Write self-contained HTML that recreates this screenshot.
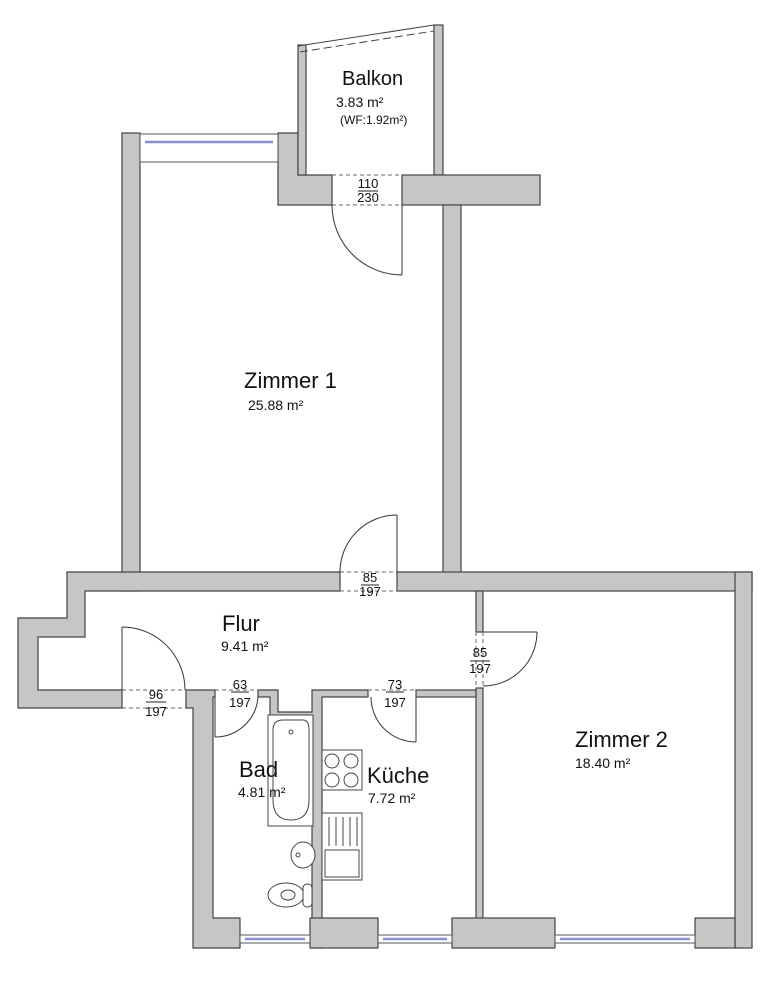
<!DOCTYPE html>
<html><head><meta charset="utf-8"><style>
html,body{margin:0;padding:0;background:#fff}
svg{display:block}
text{font-family:"Liberation Sans",Arial,sans-serif;fill:#111}
</style></head><body>
<svg width="768" height="990" viewBox="0 0 768 990" xmlns="http://www.w3.org/2000/svg">
<g fill="#c6c6c6" stroke="#444" stroke-width="1.2">
<rect x="122" y="133" width="18" height="458"/>
<polygon points="278,133 298,133 298,175 332,175 332,205 278,205"/>
<rect x="298" y="45" width="8" height="130"/>
<rect x="434" y="25" width="9" height="150"/>
<rect x="402" y="175" width="138" height="30"/>
<rect x="443" y="205" width="18" height="368"/>
<polygon points="18,618 67,618 67,572 340,572 340,591 85,591 85,637 38,637 38,690 122,690 122,708 18,708"/>
<rect x="397" y="572" width="355" height="19"/>
<rect x="735" y="572" width="17" height="376"/>
<rect x="476" y="591" width="7" height="41"/>
<rect x="476" y="688" width="7" height="250"/>
<polygon points="186,690 215,690 215,697 213,697 213,918 240,918 240,948 193,948 193,708 186,708"/>
<polygon points="258,690 278,690 278,712 312,712 312,690 368,690 368,697 322,697 322,948 312,948 312,720 270,720 270,697 258,697"/>
<rect x="416" y="690" width="60" height="7"/>
<rect x="310" y="918" width="68" height="30"/>
<rect x="452" y="918" width="103" height="30"/>
<rect x="695" y="918" width="40" height="30"/>
</g>
<g stroke="#555" stroke-width="1" fill="#fff">
<rect x="140" y="134" width="138" height="28"/>
<rect x="240" y="935" width="70" height="8"/>
<rect x="378" y="935" width="74" height="8"/>
<rect x="555" y="935" width="140" height="8"/>
</g>
<g stroke="#8a8fd0" stroke-width="2.5">
<line x1="145" y1="142" x2="273" y2="142"/>
<line x1="245" y1="939" x2="305" y2="939"/>
<line x1="383" y1="939" x2="447" y2="939"/>
<line x1="560" y1="939" x2="690" y2="939"/>
</g>
<g stroke="#444" stroke-width="1" fill="none">
<line x1="298" y1="46" x2="434" y2="25"/>
<line x1="300" y1="52" x2="434" y2="31" stroke-dasharray="8,4"/>
</g>
<g stroke="#666" stroke-width="1" stroke-dasharray="4,3" fill="none">
<line x1="332" y1="175" x2="402" y2="175"/><line x1="332" y1="205" x2="402" y2="205"/>
<line x1="340" y1="572" x2="397" y2="572"/><line x1="340" y1="591" x2="397" y2="591"/>
<line x1="122" y1="690" x2="186" y2="690"/><line x1="122" y1="708" x2="186" y2="708"/>
<line x1="215" y1="690" x2="258" y2="690"/><line x1="368" y1="690" x2="416" y2="690"/>
<line x1="476" y1="632" x2="476" y2="688"/><line x1="483" y1="632" x2="483" y2="688"/>
</g>
<g stroke="#333" stroke-width="1" fill="none">
<line x1="402" y1="205" x2="402" y2="275"/><path d="M332,205 A70,70 0 0 0 402,275"/>
<line x1="397" y1="572" x2="397" y2="515"/><path d="M340,572 A57,57 0 0 1 397,515"/>
<line x1="122" y1="690" x2="122" y2="627"/><path d="M122,627 A63,63 0 0 1 185,690"/>
<line x1="215" y1="697" x2="215" y2="737"/><path d="M258,697 A43,43 0 0 1 215,737"/>
<line x1="416" y1="697" x2="416" y2="742"/><path d="M371,697 A45,45 0 0 0 416,742"/>
<line x1="483" y1="632" x2="537" y2="632"/><path d="M537,632 A54,54 0 0 1 483,686"/>
</g>
<g stroke="#444" stroke-width="1" fill="#fff">
<rect x="268" y="715" width="45" height="111"/>
<path d="M273,730 Q273,720 283,720 L303,720 Q309,720 309,730 L309,800 Q309,820 291,820 Q273,820 273,800 Z"/>
<circle cx="291" cy="732" r="2"/>
<rect x="322" y="750" width="40" height="40"/>
<circle cx="332" cy="761" r="7"/><circle cx="351" cy="761" r="7"/><circle cx="332" cy="780" r="7"/><circle cx="351" cy="780" r="7"/>
<rect x="322" y="813" width="40" height="67"/>
<rect x="325" y="850" width="34" height="27"/>
<line x1="329" y1="817" x2="329" y2="846"/><line x1="336" y1="817" x2="336" y2="846"/><line x1="343" y1="817" x2="343" y2="846"/><line x1="350" y1="817" x2="350" y2="846"/><line x1="357" y1="817" x2="357" y2="846"/>
<ellipse cx="303" cy="855" rx="12" ry="13"/><circle cx="298" cy="855" r="2"/>
<ellipse cx="286" cy="895" rx="18" ry="12"/><ellipse cx="288" cy="895" rx="7" ry="5"/>
<rect x="303" y="884" width="9" height="23" rx="4"/>
</g>
<text x="342" y="85" font-size="20">Balkon</text>
<text x="336" y="107" font-size="14">3.83 m²</text>
<text x="340" y="124" font-size="12">(WF:1.92m²)</text>
<text x="244" y="388" font-size="22">Zimmer 1</text>
<text x="248" y="410" font-size="14">25.88 m²</text>
<text x="222" y="631" font-size="22">Flur</text>
<text x="221" y="651" font-size="14">9.41 m²</text>
<text x="575" y="747" font-size="22">Zimmer 2</text>
<text x="575" y="768" font-size="14">18.40 m²</text>
<text x="239" y="777" font-size="22">Bad</text>
<text x="238" y="797" font-size="14">4.81 m²</text>
<text x="367" y="783" font-size="22">Küche</text>
<text x="368" y="803" font-size="14">7.72 m²</text>
<g font-size="13" text-anchor="middle">
<text x="368" y="188">110</text><text x="368" y="202">230</text>
<text x="370" y="582">85</text><text x="370" y="596">197</text>
<text x="156" y="699">96</text><text x="156" y="716">197</text>
<text x="240" y="689">63</text><text x="240" y="707">197</text>
<text x="395" y="689">73</text><text x="395" y="707">197</text>
<text x="480" y="657">85</text><text x="480" y="673">197</text>
</g>
<g stroke="#222" stroke-width="1">
<line x1="358" y1="191" x2="378" y2="191"/>
<line x1="361" y1="585" x2="379" y2="585"/>
<line x1="146" y1="702" x2="166" y2="702"/>
<line x1="231" y1="692" x2="249" y2="692"/>
<line x1="386" y1="692" x2="404" y2="692"/>
<line x1="470" y1="661" x2="490" y2="661"/>
</g>
</svg>
</body></html>
